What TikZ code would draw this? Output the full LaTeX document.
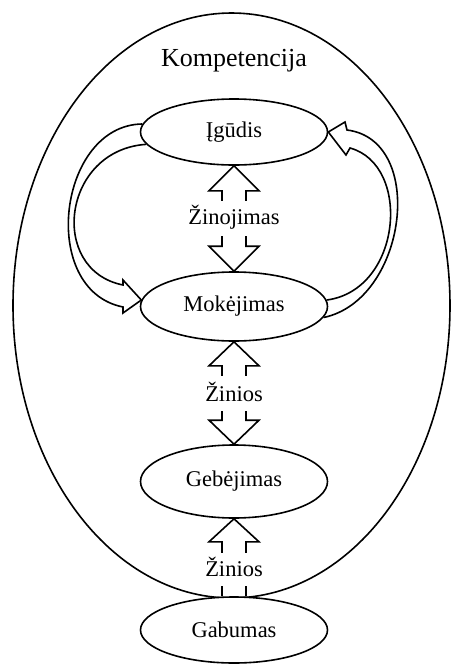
\documentclass[tikz,border=0pt]{standalone}
\usepackage{fontspec}
\setmainfont{Liberation Serif}
\usepackage{tikz}
\usetikzlibrary{shapes.geometric}

\begin{document}
\begin{tikzpicture}[x=1pt,y=-1pt,
    oval/.style={shape=ellipse, draw, line width=1.6pt, fill=white, inner sep=0pt, minimum width=187pt, font=\fontsize{22.5}{27}\selectfont},
    blk/.style={line width=1.6pt, line join=miter},
    lbl/.style={font=\fontsize{22.5}{27}\selectfont, inner sep=1pt}]
    \useasboundingbox (0,0) rectangle (452,665);

    \node[shape=ellipse, draw, line width=1.6pt, inner sep=0pt, minimum width=437pt, minimum height=585pt] (komp) at (231.5,305.5) {};
    \node[font=\fontsize{26}{31}\selectfont] (kompt) at (234,61) {Kompetencija};

    \node[oval, minimum height=66pt] (ig) at (234,132) {Įgūdis};
    \node[oval, minimum height=69pt] (mk) at (234,306.5) {Mokėjimas};
    \node[oval, minimum height=73pt] (gb) at (234,481.5) {Gebėjimas};
    \node[oval, minimum height=66pt] (ga) at (234,630) {Gabumas};

    \node[lbl] (zn) at (234,217) {Žinojimas};
    \node[lbl] (zi1) at (234,392) {Žinios};
    \node[lbl] (zi2) at (234,567) {Žinios};

    % between Igudis and Mokejimas
    \draw[blk] (ig.south) ++(-12,35) -- ++(0,-10) -- ++(-13,0) -- (ig.south) -- ++(25,25) -- ++(-13,0) -- ++(0,10);
    \draw[blk] (mk.north) ++(-12,-35) -- ++(0,10) -- ++(-13,0) -- (mk.north) -- ++(25,-25) -- ++(-13,0) -- ++(0,-10);

    % between Mokejimas and Gebejimas
    \draw[blk] (mk.south) ++(-12,34) -- ++(0,-10) -- ++(-13,0) -- (mk.south) -- ++(25,24) -- ++(-13,0) -- ++(0,10);
    \draw[blk] (gb.north) ++(-12,-33) -- ++(0,9) -- ++(-13,0) -- (gb.north) -- ++(25,-24) -- ++(-13,0) -- ++(0,-9);

    % between Gebejimas and Gabumas
    \draw[blk] (gb.south) ++(-12,34) -- ++(0,-11) -- ++(-13,0) -- (gb.south) -- ++(25,23) -- ++(-13,0) -- ++(0,11);
    \draw[blk] (ga.north) ++(-12,0) -- ++(0,-10);
    \draw[blk] (ga.north) ++(12,0) -- ++(0,-10);

    % curved arrows
    \draw[blk] (ig.188) .. controls (62,150) and (48,270) .. (123,285) -- (123,280) -- (mk.176) -- (123,313) -- (123,307) .. controls (38,290) and (58,125) .. (ig.175);
    \draw[blk] (mk.4) .. controls (402,290) and (412,165) .. (350,148) -- (346,155) -- (ig.east) -- (345,122) -- (347,130) .. controls (427,140) and (407,300) .. (mk.353);
\end{tikzpicture}
\end{document}
